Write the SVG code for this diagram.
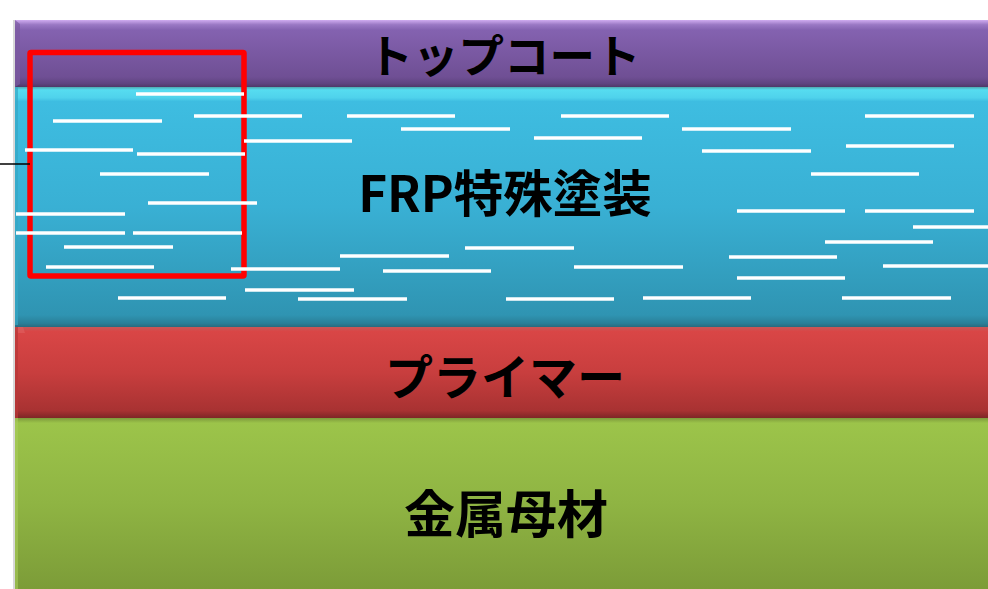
<svg xmlns="http://www.w3.org/2000/svg" width="988" height="589" viewBox="0 0 988 589">
<defs>
<linearGradient id="gP" x1="0" y1="0" x2="0" y2="1">
<stop offset="0" stop-color="#d0acf0"/><stop offset="0.07" stop-color="#9a78c4"/><stop offset="0.15" stop-color="#8462b0"/><stop offset="0.85" stop-color="#6f4f94"/><stop offset="0.95" stop-color="#5f4380"/><stop offset="1" stop-color="#4e3868"/>
</linearGradient>
<linearGradient id="gC" x1="0" y1="0" x2="0" y2="1">
<stop offset="0" stop-color="#4fa8b0"/><stop offset="0.012" stop-color="#56dcf0"/><stop offset="0.045" stop-color="#4fd2ec"/><stop offset="0.06" stop-color="#3ebde1"/><stop offset="0.5" stop-color="#39b0d4"/><stop offset="0.95" stop-color="#2f94b2"/><stop offset="0.985" stop-color="#2a7f98"/><stop offset="1" stop-color="#2a6a7e"/>
</linearGradient>
<linearGradient id="gR" x1="0" y1="0" x2="0" y2="1">
<stop offset="0" stop-color="#c85858"/><stop offset="0.05" stop-color="#d94646"/><stop offset="0.5" stop-color="#c83e3e"/><stop offset="0.92" stop-color="#a83232"/><stop offset="1" stop-color="#7e2626"/>
</linearGradient>
<linearGradient id="gG" x1="0" y1="0" x2="0" y2="1">
<stop offset="0" stop-color="#7e9a3c"/><stop offset="0.03" stop-color="#9cc44a"/><stop offset="0.5" stop-color="#8fb443"/><stop offset="1" stop-color="#7c9c38"/>
</linearGradient>
<style>
.lbl{font-family:"Noto Sans CJK JP","Noto Sans",sans-serif;font-weight:bold;font-size:48px;fill:#000;text-anchor:middle}
.wl line{stroke:#fff;stroke-width:3.5}
</style>
</defs>
<rect width="988" height="589" fill="#fff"/>
<rect x="13" y="20" width="3" height="569" fill="#d8d8d8"/>
<g id="green">
<rect x="15" y="418" width="980" height="171" fill="url(#gG)"/>
<rect x="15" y="418" width="3" height="171" fill="#a8cc5c" opacity="0.6"/>
<text class="lbl" x="506" y="533" style="font-size:51px">金属母材</text>
</g>
<g id="red">
<rect x="15" y="327" width="980" height="91" fill="url(#gR)"/>
<polygon points="15,327 23,327 25,333 18,333" fill="#e06060" opacity="0.6"/>
<rect x="15" y="327" width="3" height="91" fill="#b83838" opacity="0.7"/>
<text class="lbl" x="505" y="395">プライマー</text>
</g>
<g id="cyan">
<rect x="15" y="87" width="980" height="240" fill="url(#gC)"/>
<rect x="15" y="87" width="3" height="238" fill="#34a6c4" opacity="0.7"/>
<text class="lbl" x="505" y="212" style="font-size:49.5px">FRP特殊塗装</text>
</g>
<g id="purple">
<rect x="15" y="20" width="980" height="67" fill="url(#gP)"/>
<polygon points="15,20 20,24 20,84 15,87" fill="#7a58a0" opacity="0.7"/>
<text class="lbl" x="504" y="73" style="font-size:45.5px">トップコート</text>
</g>
<g id="highlight">
<rect x="30" y="52.5" width="214" height="223.5" rx="1" fill="none" stroke="#ff0000" stroke-width="5.5"/>
</g>
<g id="fibers" class="wl">
<line x1="136" y1="94" x2="244" y2="94"/>
<line x1="53" y1="121" x2="162" y2="121"/>
<line x1="194" y1="116" x2="302" y2="116"/>
<line x1="244" y1="141" x2="352" y2="141"/>
<line x1="25" y1="150" x2="133" y2="150"/>
<line x1="137" y1="154" x2="245" y2="154"/>
<line x1="100" y1="174" x2="209" y2="174"/>
<line x1="148" y1="203" x2="257" y2="203"/>
<line x1="16" y1="214" x2="125" y2="214"/>
<line x1="16" y1="233" x2="125" y2="233"/>
<line x1="133" y1="233" x2="242" y2="233"/>
<line x1="64" y1="247" x2="173" y2="247"/>
<line x1="46" y1="267" x2="154" y2="267"/>
<line x1="231" y1="269" x2="340" y2="269"/>
<line x1="245" y1="290" x2="354" y2="290"/>
<line x1="118" y1="298" x2="226" y2="298"/>
<line x1="298" y1="299" x2="407" y2="299"/>
<line x1="347" y1="116" x2="455" y2="116"/>
<line x1="401" y1="129" x2="510" y2="129"/>
<line x1="561" y1="116" x2="669" y2="116"/>
<line x1="534" y1="138" x2="642" y2="138"/>
<line x1="465" y1="248" x2="574" y2="248"/>
<line x1="340" y1="256" x2="449" y2="256"/>
<line x1="383" y1="271" x2="491" y2="271"/>
<line x1="574" y1="267" x2="683" y2="267"/>
<line x1="506" y1="299" x2="614" y2="299"/>
<line x1="643" y1="298" x2="751" y2="298"/>
<line x1="865" y1="116" x2="974" y2="116"/>
<line x1="682" y1="129" x2="791" y2="129"/>
<line x1="846" y1="146" x2="954" y2="146"/>
<line x1="702" y1="151" x2="811" y2="151"/>
<line x1="811" y1="174" x2="919" y2="174"/>
<line x1="737" y1="211" x2="845" y2="211"/>
<line x1="865" y1="211" x2="974" y2="211"/>
<line x1="913" y1="227" x2="1021" y2="227"/>
<line x1="825" y1="242" x2="933" y2="242"/>
<line x1="729" y1="257" x2="837" y2="257"/>
<line x1="883" y1="266" x2="991" y2="266"/>
<line x1="737" y1="278" x2="845" y2="278"/>
<line x1="842" y1="298" x2="951" y2="298"/>
</g>
<g id="connectors">
<line x1="0" y1="164" x2="30" y2="164" stroke="#000" stroke-width="1.5"/>
</g>
</svg>
